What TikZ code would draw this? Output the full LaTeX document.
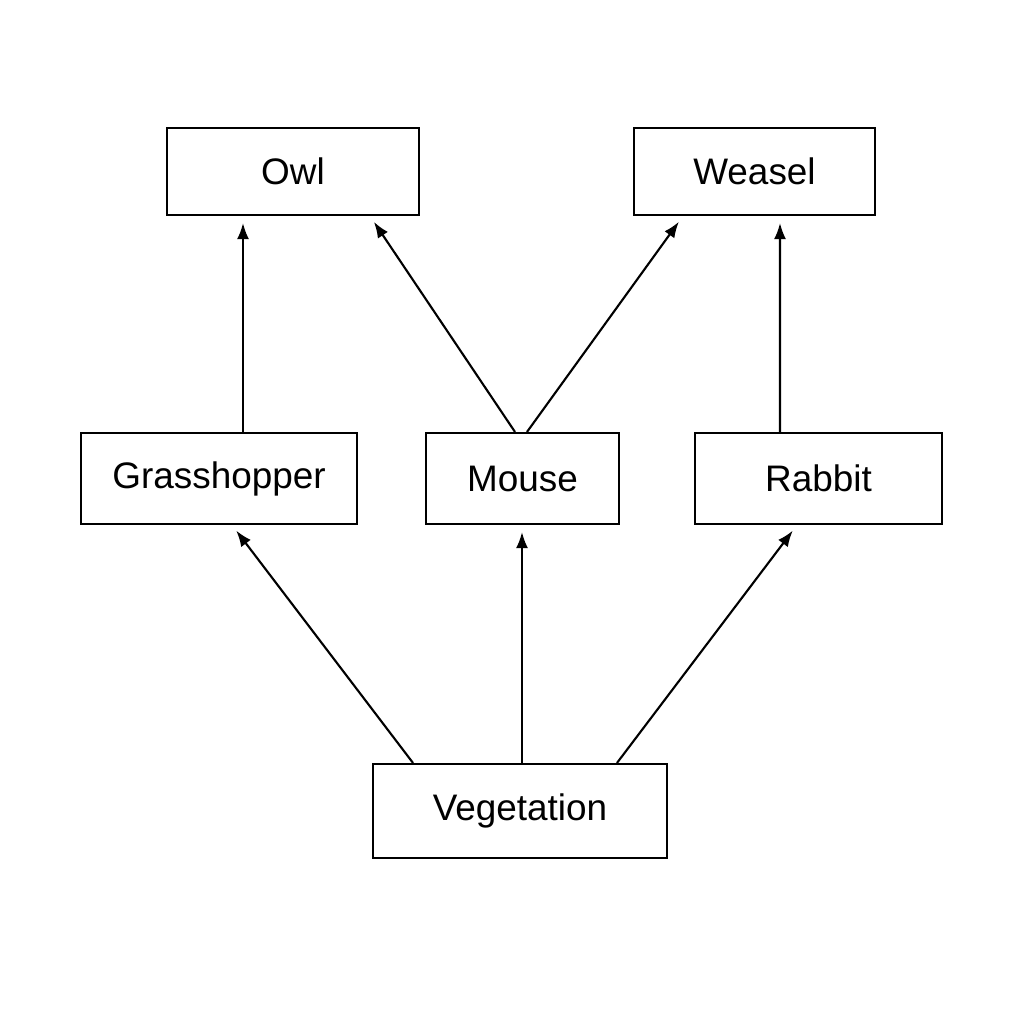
\documentclass[tikz,border=0pt]{standalone}
\usepackage{fontspec}
\setmainfont{Liberation Sans}
\usetikzlibrary{arrows.meta}
\begin{document}
\begin{tikzpicture}
\tikzstyle{box} = [draw, line width=0.6pt, inner sep=0, font=\fontsize{10.5}{12}\selectfont]
\tikzstyle{feed} = [-{Latex[length=1.6mm,width=1.2mm]}, line width=0.6pt, shorten >=0.07cm]
\useasboundingbox (0,0) rectangle (10.24,10.24);
\node [box, minimum width=2.52cm, minimum height=0.87cm] (owl) at (2.93,8.525) {Owl};
\node [box, minimum width=2.41cm, minimum height=0.87cm] (weasel) at (7.545,8.525) {Weasel};
\node [box, minimum width=2.76cm, minimum height=0.91cm] (grass) at (2.19,5.455) {Grasshopper};
\node [box, minimum width=1.93cm, minimum height=0.91cm] (mouse) at (5.225,5.455) {Mouse};
\node [box, minimum width=2.47cm, minimum height=0.91cm] (rabbit) at (8.185,5.455) {Rabbit};
\node [box, minimum width=2.94cm, minimum height=0.94cm] (veg) at (5.20,2.13) {Vegetation};
% arrows from prey to predator
\draw [feed] ([xshift=0.24cm]grass.north) -- ([xshift=0.24cm]owl.south -| grass.north);
\draw [feed] ([xshift=-0.075cm]mouse.north) -- ([xshift=0.77cm]owl.south);
\draw [feed] ([xshift=0.045cm]mouse.north) -- ([xshift=-0.715cm]weasel.south);
\draw [feed] ([xshift=-0.385cm]rabbit.north) -- ([xshift=0.255cm]weasel.south);
\draw [feed] ([xshift=-1.07cm]veg.north) -- ([xshift=0.13cm]grass.south);
\draw [feed] ([xshift=0.02cm]veg.north) -- ([xshift=0.02cm]mouse.south -| veg.north);
\draw [feed] ([xshift=0.97cm]veg.north) -- ([xshift=-0.215cm]rabbit.south);
\end{tikzpicture}
\end{document}
